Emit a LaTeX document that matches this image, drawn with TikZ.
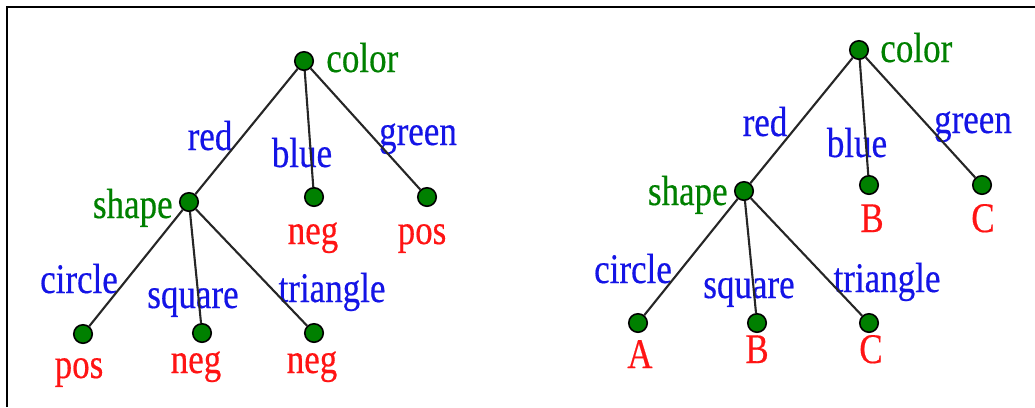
\documentclass[tikz,border=0pt]{standalone}
\usepackage{fontspec}
\setmainfont{Liberation Serif}
\newfontfamily\treefont[FakeStretch=0.83, FakeBold=0.4]{Liberation Serif}
\usetikzlibrary{positioning}
\definecolor{attrgreen}{RGB}{0,128,0}
\definecolor{valblue}{RGB}{20,20,230}
\definecolor{leafred}{RGB}{255,20,20}

\begin{document}
\begin{tikzpicture}[
    x=0.02cm, y=-0.02cm,
    dot/.style={circle, draw=black, fill=attrgreen, line width=0.9pt, inner sep=0pt, minimum size=0.37cm},
    lbl/.style={inner sep=0pt, font=\treefont\fontsize{24}{28}\selectfont},
    attr/.style={lbl, text=attrgreen},
    val/.style={lbl, text=valblue, anchor=base},
    cls/.style={lbl, text=leafred, anchor=base},
    edge/.style={line width=1.2pt, draw=black!85}
]
\useasboundingbox (0,0) rectangle (1035,407);
\draw[line width=1.3pt] (7,407) -- (7,7) -- (1035,7);

% left tree
\node[dot] (colorL) at (304,61) {};
\node[dot] (shapeL) at (189,202) {};
\node[dot] (blueL) at (314,197) {};
\node[dot] (greenL) at (427,197) {};
\node[dot] (circL) at (83,334) {};
\node[dot] (squL) at (202,333) {};
\node[dot] (triL) at (314,333) {};
\node[attr, anchor=base west] (colorLt) at (326,72) {color};
\node[attr, anchor=base east] (shapeLt) at (173,218) {shape};
\node[val] (redL) at (210,150) {red};
\node[val] (blueLt) at (302,167) {blue};
\node[val] (greenLt) at (418,145) {green};
\node[val] (circLt) at (79,293) {circle};
\node[val] (squLt) at (193,308) {square};
\node[val] (triLt) at (332,302) {triangle};
\node[cls] (blueLc) at (313,244) {neg};
\node[cls] (greenLc) at (422,244) {pos};
\node[cls] (circLc) at (79,378) {pos};
\node[cls] (squLc) at (196,373) {neg};
\node[cls] (triLc) at (312,373) {neg};
\draw[edge] (colorL) -- (shapeL);
\draw[edge] (colorL) -- (blueL);
\draw[edge] (colorL) -- (greenL);
\draw[edge] (shapeL) -- (circL);
\draw[edge] (shapeL) -- (squL);
\draw[edge] (shapeL) -- (triL);

% right tree
\node[dot] (colorR) at (859,50) {};
\node[dot] (shapeR) at (744,191) {};
\node[dot] (blueR) at (869,185) {};
\node[dot] (greenR) at (982,185) {};
\node[dot] (circR) at (638,323) {};
\node[dot] (squR) at (757,323) {};
\node[dot] (triR) at (869,323) {};
\node[attr, anchor=base west] (colorRt) at (880,62) {color};
\node[attr, anchor=base east] (shapeRt) at (728,205) {shape};
\node[val] (redR) at (765,136) {red};
\node[val] (blueRt) at (857,157) {blue};
\node[val] (greenRt) at (973,133) {green};
\node[val] (circRt) at (633,283) {circle};
\node[val] (squRt) at (749,298) {square};
\node[val] (triRt) at (887,292) {triangle};
\node[cls] (blueRc) at (872,232) {B};
\node[cls] (greenRc) at (983,232) {C};
\node[cls] (circRc) at (640,368) {A};
\node[cls] (squRc) at (757,363) {B};
\node[cls] (triRc) at (871,363) {C};
\draw[edge] (colorR) -- (shapeR);
\draw[edge] (colorR) -- (blueR);
\draw[edge] (colorR) -- (greenR);
\draw[edge] (shapeR) -- (circR);
\draw[edge] (shapeR) -- (squR);
\draw[edge] (shapeR) -- (triR);
\end{tikzpicture}
\end{document}
